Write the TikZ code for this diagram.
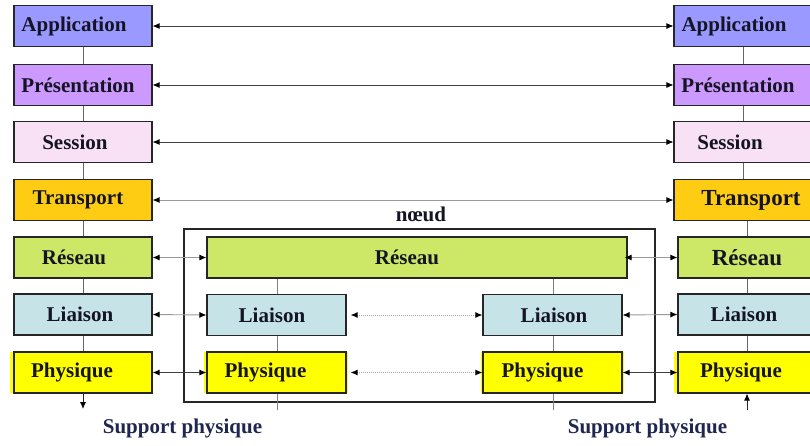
\documentclass[tikz,border=0pt]{standalone}
\usepackage{fontspec}
\setmainfont{Liberation Serif}
\usetikzlibrary{arrows.meta}

\definecolor{appc}{HTML}{9999FF}
\definecolor{prsc}{HTML}{CC99FF}
\definecolor{sesc}{HTML}{F8E1F4}
\definecolor{trnc}{HTML}{FFCC14}
\definecolor{resc}{HTML}{CCE866}
\definecolor{liac}{HTML}{C6E4E8}
\definecolor{phyc}{HTML}{FFFF00}
\definecolor{ink}{HTML}{141424}
\definecolor{navy}{HTML}{1F2650}

\begin{document}
\begin{tikzpicture}[x=1pt,y=-1pt,
  layer/.style={draw=black!85, line width=1.1pt, minimum height=41pt, inner sep=0pt,
                font=\fontsize{21}{25}\selectfont\bfseries, text=ink},
  % moves the label sideways inside its box by half the given kern
  tx/.style={execute at begin node={\kern#1}},
  stackw/.style={minimum width=138pt},
  innerw/.style={minimum width=139pt},
  big/.style={font=\fontsize{23}{27}\selectfont\bfseries},
  link/.style={draw=black!60, line width=0.9pt},
  tip/.style={Latex[length=7pt,width=6pt,color=black]},
  peer/.style={{Latex[length=7pt,width=6pt,color=black]}-{Latex[length=7pt,width=6pt,color=black]}, line width=0.9pt},
  dark/.style={peer, draw=black!75},
  light/.style={peer, draw=black!40},
  virtual/.style={{Latex[length=7pt,width=6pt,color=black]}-{Latex[length=7pt,width=6pt,color=black]},
                  draw=black!35, line width=1pt, dash pattern=on 1pt off 1pt},
  caption/.style={font=\fontsize{21}{25}\selectfont\bfseries, text=navy}
]
\useasboundingbox (0,0) rectangle (810,445);

% ---------- end system A (left stack) ----------
\draw[link] (83,26) -- (83,372);
\fill[phyc] (10,352) rectangle (152,393);
\node[layer, stackw, fill=appc, tx=-18pt] (la) at (83,26)    {Application};
\node[layer, stackw, fill=prsc, tx=-10pt] (lpr) at (83,85)   {Présentation};
\node[layer, stackw, fill=sesc, tx=-16pt] (ls) at (83,142)   {Session};
\node[layer, stackw, fill=trnc, tx=-10pt] (lt) at (83,200)   {Transport};
\node[layer, stackw, fill=resc, tx=-18pt] (lr) at (83,257.5) {Réseau};
\node[layer, stackw, fill=liac, tx=-6pt] (ll) at (83,314.5)  {Liaison};
\node[layer, stackw, tx=-22pt] (lp) at (83,372.5) {Physique};

% ---------- end system B (right stack) ----------
\draw[link] (743,26) -- (743,200);
\draw[link] (747,200) -- (747,372);
\fill[phyc] (674,352) rectangle (816,393);
\node[layer, stackw, fill=appc, tx=-18pt] (ra) at (743,26)      {Application};
\node[layer, stackw, fill=prsc, tx=-10pt] (rpr) at (743,85)     {Présentation};
\node[layer, stackw, fill=sesc, tx=-26pt] (rs) at (743,142)     {Session};
\node[layer, stackw, fill=trnc, big, tx=16pt] (rt) at (743,200) {Transport};
\node[layer, stackw, fill=resc, big] (rr) at (747,257.5) {Réseau};
\node[layer, stackw, fill=liac, tx=-6pt] (rl) at (747,314.5)   {Liaison};
\node[layer, stackw, tx=-12pt] (rp) at (747,372.5) {Physique};

% ---------- intermediate node ----------
\node[draw=black!85, line width=1.1pt, minimum width=471pt, minimum height=173pt, inner sep=0pt]
  (nd) at (419.5,315.5) {};
\node[caption, text=ink] (ndlabel) at (421,214) {nœud};

\draw[link, draw=black!50] (277,278) -- (277,410);
\draw[link, draw=black!50] (553,278) -- (553,410);
\fill[phyc] (204,352) rectangle (348,393);
\fill[phyc] (481,352) rectangle (624,393);
\node[layer, minimum width=420pt, fill=resc, tx=-20pt] (ir) at (417,257.5) {Réseau};
\node[layer, innerw, fill=liac, tx=-9pt] (il1) at (276.5,315) {Liaison};
\node[layer, innerw, tx=-22pt] (ip1) at (276.5,372.5) {Physique};
\node[layer, innerw, fill=liac, tx=3pt] (il2) at (552.5,315) {Liaison};
\node[layer, innerw, tx=-20pt] (ip2) at (552.5,372.5) {Physique};

% ---------- peer-to-peer dialogues ----------
\draw[dark]  (la.east)  -- (ra.west);
\draw[dark]  (lpr.east) -- (rpr.west);
\draw[dark]  (ls.east)  -- (rs.west);
\draw[light] (lt.east)  -- (rt.west);

\draw[light] (lr.east) -- (ir.west);
\draw[light] ([xshift=-3pt]ir.east) -- (rr.west);
\draw[light] (ll.east) -- (il1.west);
\draw[light] (il2.east) -- (rl.west);
\draw[dark]  (lp.east) -- (ip1.west);
\draw[dark]  (ip2.east) -- (rp.west);

\draw[virtual] ([xshift=4pt]il1.east) -- (il2.west);
\draw[virtual] ([xshift=4pt]ip1.east) -- (ip2.west);

% ---------- physical medium ----------
\coordinate (lsup) at (83,409);
\coordinate (rsup) at (747,410);
\draw[link, draw=black!85, -{Latex[length=7pt,width=6pt,color=black]}] (lp.south) -- (lsup);
\draw[link, draw=black!85, -{Latex[length=7pt,width=6pt,color=black]}] (rsup) -- (rp.south);

\node[caption] (supl) at (182.5,428) {Support physique};
\node[caption] (supr) at (647.5,428) {Support physique};
\end{tikzpicture}
\end{document}
